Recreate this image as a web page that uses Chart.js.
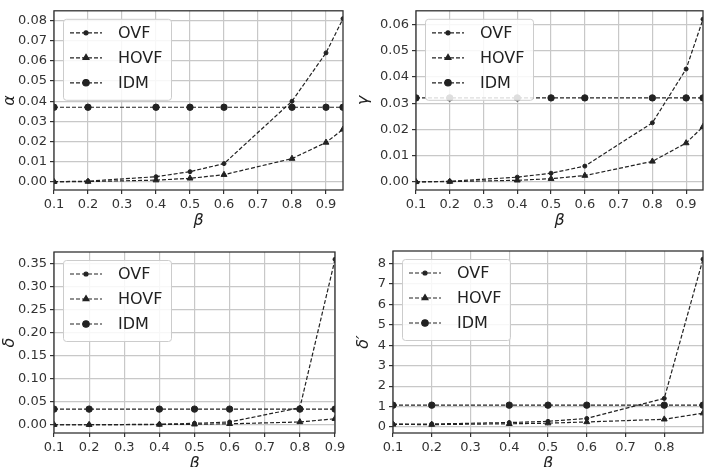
<!DOCTYPE html>
<html>
<head>
<meta charset="utf-8">
<script src="https://cdn.jsdelivr.net/npm/chart.js@4.4.0/dist/chart.umd.min.js"></script>
<style>
  body { margin: 0; width: 708px; height: 467px; overflow: hidden; background: #fff; position: relative; }
  canvas { position: absolute; }
</style>
</head>
<body>
<canvas id="c1" style="left:0px;top:0px"></canvas>
<canvas id="c2" style="left:354px;top:0px"></canvas>
<canvas id="c3" style="left:0px;top:230px"></canvas>
<canvas id="c4" style="left:354px;top:230px"></canvas>
<script>
// beta values
var betaTop = [0.1, 0.2, 0.4, 0.5, 0.6, 0.8, 0.9, 0.95]
var betaBottom = [0.1, 0.2, 0.4, 0.5, 0.6, 0.8, 0.9]

// alpha
var alphaOVF = [0.0, 0.0003, 0.0025, 0.005, 0.009, 0.040, 0.064, 0.081]
var alphaHOVF = [0.0, 0.0001, 0.0008, 0.0017, 0.0035, 0.0115, 0.0195, 0.026]
var alphaIDM = [0.037, 0.037, 0.037, 0.037, 0.037, 0.037, 0.037, 0.037]

// gamma
var gammaOVF = [0.0, 0.0002, 0.0018, 0.0033, 0.006, 0.0225, 0.043, 0.062]
var gammaHOVF = [0.0, 0.0001, 0.0006, 0.0012, 0.0024, 0.0078, 0.0148, 0.021]
var gammaIDM = [0.032, 0.032, 0.032, 0.032, 0.032, 0.032, 0.032, 0.032]

// delta
var deltaOVF = [0.0, 0.0, 0.001, 0.003, 0.006, 0.037, 0.36]
var deltaHOVF = [0.0, 0.0, 0.0005, 0.001, 0.002, 0.006, 0.013]
var deltaIDM = [0.034, 0.034, 0.034, 0.034, 0.034, 0.034, 0.034]

// delta'
var deltaPOVF = [0.15, 0.15, 0.22, 0.28, 0.42, 1.4, 8.2]
var deltaPHOVF = [0.13, 0.12, 0.16, 0.19, 0.25, 0.38, 0.68]
var deltaPIDM = [1.07, 1.07, 1.07, 1.07, 1.07, 1.07, 1.07]

// tick labels
var xTicksTop = [0.1, 0.2, 0.3, 0.4, 0.5, 0.6, 0.7, 0.8, 0.9]
var xTicksBR = [0.1, 0.2, 0.3, 0.4, 0.5, 0.6, 0.7, 0.8]
var yTicksAlpha = [0, 0.01, 0.02, 0.03, 0.04, 0.05, 0.06, 0.07, 0.08]
var yTicksGamma = [0, 0.01, 0.02, 0.03, 0.04, 0.05, 0.06]
var yTicksDelta = [0, 0.05, 0.10, 0.15, 0.20, 0.25, 0.30, 0.35]
var yTicksDeltaP = [0, 1, 2, 3, 4, 5, 6, 7, 8]

var seriesNames = ["OVF", "HOVF", "IDM"]
var ink = "#222"

function pts(xs, ys) {
    return xs.map((x, i) => ({x: x, y: ys[i]}))
}

//Legende und Rahmen selbst zeichnen
var framePlugin = {
    id: "frame",
    afterDatasetsDraw(chart) {
        var ctx = chart.ctx
        var a = chart.chartArea
        ctx.save()
        ctx.strokeStyle = "#333"
        ctx.lineWidth = 1.3
        ctx.strokeRect(a.left, a.top, a.right - a.left, a.bottom - a.top)

        var bx = a.left + 9, by = a.top + 8, bw = 108, bh = 81
        ctx.fillStyle = "rgba(255,255,255,0.85)"
        ctx.strokeStyle = "#ccc"
        ctx.lineWidth = 1
        ctx.beginPath()
        ctx.roundRect(bx + 0.5, by + 0.5, bw, bh, 3)
        ctx.fill()
        ctx.stroke()

        chart.data.datasets.forEach((ds, i) => {
            var y = by + 14 + i * 25
            ctx.strokeStyle = ink
            ctx.lineWidth = 1.2
            ctx.setLineDash([4, 2])
            ctx.beginPath()
            ctx.moveTo(bx + 7, y)
            ctx.lineTo(bx + 39, y)
            ctx.stroke()
            ctx.setLineDash([])
            ctx.fillStyle = ink
            Chart.helpers.drawPoint(ctx, {pointStyle: ds.pointStyle, radius: ds.pointRadius, borderWidth: 1}, bx + 23, y)
            ctx.fillStyle = "#222"
            ctx.font = "16px 'DejaVu Sans'"
            ctx.textBaseline = "middle"
            ctx.fillText(ds.label, bx + 55, y + 1)
        })
        ctx.restore()
    }
}

function makeChart(id, w, h, o) {
    var el = document.getElementById(id)
    el.width = w
    el.height = h
    var styles = [
        {pointStyle: "circle", pointRadius: 2},
        {pointStyle: "triangle", pointRadius: 3.4},
        {pointStyle: "circle", pointRadius: 3.2}
    ]
    var data = {
        datasets: o.series.map((ys, i) => ({
            label: seriesNames[i],
            data: pts(o.xs, ys),
            borderColor: ink,
            backgroundColor: ink,
            borderWidth: 1.2,
            borderDash: [4, 2],
            pointStyle: styles[i].pointStyle,
            pointRadius: styles[i].pointRadius,
            pointBackgroundColor: ink,
            pointBorderColor: ink,
            pointBorderWidth: 1,
            clip: 0
        }))
    }
    var config = {
        type: "line",
        data: data,
        options: {
            responsive: false,
            animation: false,
            devicePixelRatio: 1,
            layout: {padding: {left: 0, right: o.padRight, top: o.padTop, bottom: o.padBottom}},
            plugins: {legend: {display: false}, tooltip: {enabled: false}},
            scales: {
                x: {
                    type: "linear",
                    min: 0.1,
                    max: o.xMax,
                    afterBuildTicks: s => { s.ticks = o.xTicks.map(v => ({value: v})) },
                    afterFit: s => { s.height = 40 },
                    ticks: {
                        color: "#333",
                        padding: 3,
                        maxRotation: 0,
                        autoSkip: false,
                        font: {family: "DejaVu Sans", size: 13},
                        callback: v => v.toFixed(1)
                    },
                    grid: {color: "#c8c8c8", lineWidth: 1.2, tickLength: 4, tickColor: "#333"},
                    border: {display: false},
                    title: {display: true, text: "β", color: "#222", padding: 0,
                        font: {family: "DejaVu Sans", size: 16, style: "italic"}}
                },
                y: {
                    min: o.yMin,
                    max: o.yMax,
                    afterBuildTicks: s => { s.ticks = o.yTicks.map(v => ({value: v})) },
                    afterFit: s => { s.width = o.yWidth },
                    ticks: {
                        color: "#333",
                        padding: 3,
                        autoSkip: false,
                        font: {family: "DejaVu Sans", size: 13},
                        callback: v => v.toFixed(o.decimals)
                    },
                    grid: {color: "#c8c8c8", lineWidth: 1.2, tickLength: 4, tickColor: "#333"},
                    border: {display: false},
                    title: {display: true, text: o.yTitle, color: "#222", padding: 0,
                        font: {family: "DejaVu Sans", size: 16, style: "italic"}}
                }
            }
        },
        plugins: [framePlugin]
    }
    return new Chart(el.getContext("2d"), config)
}

makeChart("c1", 354, 230, {
    xs: betaTop, series: [alphaOVF, alphaHOVF, alphaIDM],
    xMax: 0.95, xTicks: xTicksTop, yMin: -0.0041, yMax: 0.0849, yTicks: yTicksAlpha, decimals: 2,
    yTitle: "α", yWidth: 54, padRight: 11, padTop: 7, padBottom: 0
})
makeChart("c2", 354, 230, {
    xs: betaTop, series: [gammaOVF, gammaHOVF, gammaIDM],
    xMax: 0.95, xTicks: xTicksTop, yMin: -0.0031, yMax: 0.0652, yTicks: yTicksGamma, decimals: 2,
    yTitle: "γ", yWidth: 62, padRight: 2, padTop: 7, padBottom: 0
})
makeChart("c3", 354, 250, {
    xs: betaBottom, series: [deltaOVF, deltaHOVF, deltaIDM],
    xMax: 0.9, xTicks: xTicksTop, yMin: -0.018, yMax: 0.376, yTicks: yTicksDelta, decimals: 2,
    yTitle: "δ", yWidth: 54, padRight: 19, padTop: 22, padBottom: 7
})
makeChart("c4", 354, 250, {
    xs: betaBottom, series: [deltaPOVF, deltaPHOVF, deltaPIDM],
    xMax: 0.9, xTicks: xTicksBR, yMin: -0.29, yMax: 8.6, yTicks: yTicksDeltaP, decimals: 0,
    yTitle: "δ′", yWidth: 39, padRight: 3, padTop: 21, padBottom: 7
})
</script>
</body>
</html>
